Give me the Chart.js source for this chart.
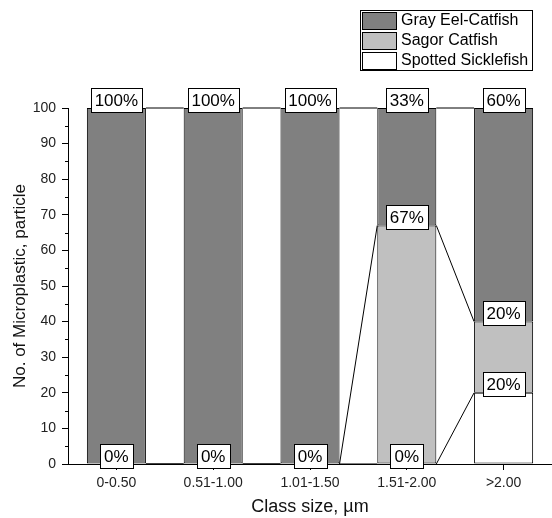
<!DOCTYPE html>
<html>
<head>
<meta charset="utf-8">
<script src="https://cdn.jsdelivr.net/npm/chart.js@4/dist/chart.umd.min.js"></script>
<style>
  html, body { margin: 0; padding: 0; background: #fff; }
  canvas { display: block; }
</style>
</head>
<body>
<canvas id="size-chart" width="552" height="518"></canvas>
<script>
const classSizes = ['0-0.50', '0.51-1.00', '1.01-1.50', '1.51-2.00', '>2.00'];
// stacked bottom to top
const spottedSicklefish = [0, 0, 0, 0, 20];
const sagorCatfish = [0, 0, 0, 67, 20];
const grayEelCatfish = [100, 100, 100, 33, 60];
const yMinorTicks = [5, 15, 25, 35, 45, 55, 65, 75, 85, 95];

const FONT = "'Liberation Sans', Arial, sans-serif";

// short minor ticks on the left axis
const minorTicks = {
    id: 'minorTicks',
    afterDraw(chart){
        const ctx = chart.ctx;
        const y = chart.scales.y;
        ctx.save();
        ctx.strokeStyle = '#000';
        ctx.lineWidth = 1;
        ctx.beginPath();
        for(let i=0; i<yMinorTicks.length; i++){
            const py = Math.round(y.getPixelForValue(yMinorTicks[i])) + 0.5;
            ctx.moveTo(y.right - 3, py);
            ctx.lineTo(y.right, py);
        }
        ctx.stroke();
        ctx.restore();
    }
};

// lines joining the segment tops of neighbouring bars
const connectors = {
    id: 'connectors',
    afterDatasetsDraw(chart){
        const ctx = chart.ctx;
        ctx.save();
        ctx.strokeStyle = '#000';
        ctx.lineWidth = 1;
        ctx.beginPath();
        chart.data.datasets.forEach((ds, d) => {
            const bars = chart.getDatasetMeta(d).data;
            for(let i=0; i<bars.length-1; i++){
                const a = bars[i], b = bars[i+1];
                ctx.moveTo(a.x + a.width/2, a.y);
                ctx.lineTo(b.x - b.width/2, b.y);
            }
        });
        ctx.stroke();
        ctx.restore();
    }
};

// boxed percentage at the top of every segment
const valueLabels = {
    id: 'valueLabels',
    afterDatasetsDraw(chart){
        const ctx = chart.ctx;
        ctx.save();
        ctx.font = '17px ' + FONT;
        ctx.textAlign = 'center';
        ctx.textBaseline = 'middle';
        ctx.lineWidth = 1;
        chart.data.datasets.forEach((ds, d) => {
            const bars = chart.getDatasetMeta(d).data;
            bars.forEach((bar, i) => {
                const text = ds.data[i] + '%';
                const w = Math.round(ctx.measureText(text).width + 8);
                const h = 24;
                const left = Math.round(bar.x - w/2);
                const top = Math.round(bar.y + 3.5 - h);
                ctx.fillStyle = '#fff';
                ctx.fillRect(left, top, w, h);
                ctx.strokeStyle = '#000';
                ctx.strokeRect(left + 0.5, top + 0.5, w, h);
                ctx.fillStyle = '#000';
                ctx.fillText(text, bar.x, top + h/2 + 1);
            });
        });
        ctx.restore();
    }
};

// framed legend in the top right corner
const boxLegend = {
    id: 'boxLegend',
    afterDraw(chart){
        const ctx = chart.ctx;
        const items = chart.data.datasets.slice().reverse();
        const left = 360, top = 10, width = 172, rowH = 20;
        ctx.save();
        ctx.fillStyle = '#fff';
        ctx.fillRect(left, top, width, rowH*items.length);
        ctx.strokeStyle = '#000';
        ctx.lineWidth = 1;
        ctx.strokeRect(left + 0.5, top + 0.5, width, rowH*items.length);
        ctx.font = '16px ' + FONT;
        ctx.textBaseline = 'middle';
        items.forEach((ds, i) => {
            const y = top + 2 + i*rowH;
            ctx.fillStyle = ds.backgroundColor;
            ctx.fillRect(left + 2, y, 34, 17);
            ctx.strokeRect(left + 2.5, y + 0.5, 34, 17);
            ctx.fillStyle = '#000';
            ctx.fillText(ds.label, left + 41, y + 9);
        });
        ctx.restore();
    }
};

function makeDataset(label, values, color){
    return {
        label: label,
        data: values,
        backgroundColor: color,
        borderColor: '#000',
        borderWidth: 1,
        borderSkipped: false,
        barPercentage: 0.61,
        categoryPercentage: 1
    };
}

function displayChart(id){
    const ctx = document.getElementById(id);
    new Chart(ctx, {
        type: 'bar',
        data: {
            labels: classSizes,
            datasets: [
                makeDataset('Spotted Sicklefish', spottedSicklefish, '#ffffff'),
                makeDataset('Sagor Catfish', sagorCatfish, '#c0c0c0'),
                makeDataset('Gray Eel-Catfish', grayEelCatfish, '#808080')
            ]
        },
        options: {
            responsive: false,
            animation: false,
            devicePixelRatio: 1,
            layout: { padding: { top: 108, right: 0, bottom: 0, left: 0 } },
            plugins: {
                legend: { display: false },
                tooltip: { enabled: false }
            },
            scales: {
                x: {
                    stacked: true,
                    afterFit: scale => { scale.height = 54; },
                    grid: { offset: false, drawOnChartArea: false, tickLength: 6, color: '#000' },
                    border: { display: true, color: '#000', width: 1 },
                    ticks: { color: '#222', padding: 5, maxRotation: 0, font: { family: FONT, size: 14 } },
                    title: {
                        display: true,
                        text: 'Class size, µm',
                        color: '#111',
                        padding: { top: 0, bottom: 0 },
                        font: { family: FONT, size: 18 }
                    }
                },
                y: {
                    stacked: true,
                    min: 0,
                    max: 100,
                    afterFit: scale => { scale.width = 68; },
                    grid: { drawOnChartArea: false, tickLength: 6, color: '#000' },
                    border: { display: true, color: '#000', width: 1 },
                    ticks: { stepSize: 10, color: '#222', padding: 6, font: { family: FONT, size: 14 } },
                    title: {
                        display: true,
                        text: 'No. of Microplastic, particle',
                        color: '#111',
                        padding: { top: 10, bottom: 0 },
                        font: { family: FONT, size: 17 }
                    }
                }
            }
        },
        plugins: [minorTicks, connectors, valueLabels, boxLegend]
    });
}

displayChart('size-chart');
</script>
</body>
</html>
